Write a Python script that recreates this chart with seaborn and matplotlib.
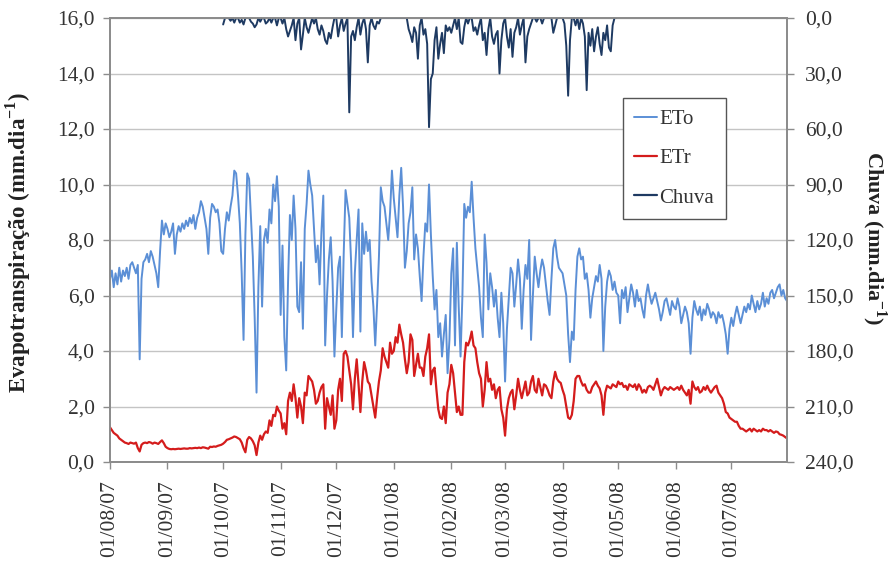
import numpy as np
import pandas as pd
import matplotlib
matplotlib.use("Agg")
import matplotlib.pyplot as plt
import matplotlib.dates as mdates
from matplotlib.ticker import FuncFormatter, MultipleLocator
from matplotlib.lines import Line2D
import seaborn as sns

# Daily reference evapotranspiration (ETo, mm/day), one list per month
eto_ago = [6.6, 6.9, 6.3, 6.8, 6.4, 7.0, 6.5, 6.9, 6.7, 7.0, 6.6, 7.1, 7.2, 7.0, 6.8, 7.1,
           3.7, 6.6, 7.2, 7.3, 7.5, 7.2, 7.6, 7.4, 7.1, 6.8, 6.3, 7.6, 8.7, 8.2, 8.6]
eto_set = [8.4, 8.1, 8.3, 8.6, 7.5, 8.2, 8.5, 8.3, 8.6, 8.4, 8.7, 8.5, 8.8, 8.6, 8.9,
           8.4, 8.8, 9.0, 9.4, 9.2, 8.8, 8.4, 7.5, 8.8, 9.3, 9.2, 9.0, 9.1, 8.6, 7.6]
eto_out = [7.5, 8.4, 9.0, 8.7, 9.2, 9.6, 10.5, 10.4, 9.6, 8.6, 6.8, 4.4, 8.2, 10.4, 10.2, 8.8,
           7.4, 5.2, 2.5, 6.3, 8.5, 5.6, 8.0, 8.4, 7.9, 9.1, 8.6, 10.0, 9.4, 10.3, 9.2]
eto_nov = [5.3, 7.8, 4.5, 3.3, 6.5, 8.9, 8.0, 9.6, 8.4, 5.6, 5.4, 7.2, 4.8, 8.4, 9.3,
           10.5, 10.0, 9.6, 8.4, 7.2, 7.8, 6.4, 8.3, 9.6, 4.2, 6.0, 7.3, 8.1, 6.5, 3.8]
eto_dez = [5.5, 7.0, 7.4, 4.5, 7.5, 9.8, 9.3, 8.8, 7.2, 4.5, 6.8, 8.0, 9.1, 4.7, 8.6, 7.5,
           8.3, 7.6, 8.0, 6.5, 5.6, 4.2, 5.7, 7.4, 9.9, 9.4, 9.2, 8.6, 8.0, 9.0, 10.5]
eto_jan = [9.5, 8.8, 8.1, 9.6, 10.6, 9.2, 7.0, 7.6, 8.6, 9.0, 9.9, 7.3, 8.2, 7.7, 6.7, 5.8,
           7.4, 8.6, 8.3, 10.0, 8.2, 6.7, 5.5, 6.2, 4.5, 5.0, 3.8, 4.6, 5.3, 3.2, 4.4]
eto_fev = [6.8, 7.7, 4.2, 7.9, 5.6, 3.8, 6.0, 9.3, 8.8, 9.2, 9.0, 10.1, 8.8, 7.7, 7.0,
           6.3, 5.2, 4.5, 8.2, 7.2, 5.5, 6.8, 6.3, 5.6, 6.2, 5.2, 4.5, 6.1, 5.0]
eto_mar = [2.9, 4.8, 5.9, 7.0, 6.8, 5.6, 6.4, 7.3, 6.6, 4.8, 6.2, 7.1, 6.6, 8.0, 4.4, 6.0,
           7.4, 6.8, 6.3, 6.9, 7.3, 7.0, 6.4, 5.8, 5.3, 6.6, 7.7, 8.0, 7.4, 7.0, 6.9]
eto_abr = [6.8, 6.4, 6.0, 4.6, 3.6, 4.7, 4.4, 6.2, 7.4, 7.7, 7.3, 7.4, 6.6, 6.8, 6.2,
           5.2, 5.9, 6.3, 6.7, 6.5, 7.1, 6.6, 4.0, 5.6, 6.5, 6.9, 6.7, 6.2, 6.5, 6.1]
eto_mai = [6.0, 5.0, 6.2, 5.9, 6.3, 5.4, 5.9, 6.4, 6.1, 5.6, 6.2, 5.8, 5.9, 5.5, 5.2, 6.0,
           6.4, 6.0, 5.7, 5.9, 6.1, 5.8, 5.5, 5.1, 5.4, 5.8, 5.9, 5.6, 5.3, 5.8, 5.6]
eto_jun = [5.5, 5.9, 5.6, 5.0, 5.3, 5.6, 5.4, 5.0, 3.9, 5.2, 5.8, 5.5, 5.3, 5.6, 5.1,
           5.5, 5.3, 5.7, 5.5, 5.2, 5.4, 5.3, 5.0, 5.4, 5.2, 5.3, 5.0, 4.6, 3.9, 4.8]
eto_jul = [5.2, 4.9, 5.3, 5.6, 5.3, 5.0, 5.3, 5.6, 5.4, 5.7, 5.5, 6.0, 5.7, 5.4, 5.8, 5.5,
           5.7, 6.1, 5.6, 5.9, 5.7, 6.1, 6.2, 5.9, 6.1, 6.3, 6.4, 6.0, 6.2, 5.9, 5.8]

# Daily actual evapotranspiration (ETr, mm/day)
etr_ago = [1.25, 1.15, 1.05, 1.0, 0.95, 0.85, 0.8, 0.75, 0.7, 0.68, 0.65, 0.7, 0.68, 0.66, 0.7, 0.5,
           0.38, 0.62, 0.68, 0.7, 0.68, 0.72, 0.7, 0.66, 0.7, 0.68, 0.65, 0.72, 0.78, 0.68, 0.55]
etr_set = [0.5, 0.47, 0.46, 0.47, 0.46, 0.47, 0.48, 0.47, 0.48, 0.49, 0.48, 0.48, 0.5, 0.49, 0.5,
           0.51, 0.5, 0.52, 0.5, 0.53, 0.52, 0.5, 0.48, 0.55, 0.54, 0.56, 0.55, 0.58, 0.6, 0.62]
etr_out = [0.66, 0.72, 0.8, 0.82, 0.85, 0.88, 0.92, 0.9, 0.86, 0.82, 0.7, 0.5, 0.35, 0.8, 0.9, 0.85,
           0.75, 0.6, 0.25, 0.7, 0.95, 0.8, 1.0, 1.1, 1.05, 1.5, 1.3, 1.7, 1.65, 2.0, 1.85]
etr_nov = [1.75, 1.2, 1.4, 1.0, 2.2, 2.5, 2.2, 2.8, 2.3, 1.6, 2.3, 2.0, 1.4, 2.5, 2.4,
           3.1, 3.0, 2.9, 2.6, 2.1, 2.2, 2.5, 2.7, 2.8, 1.2, 2.3, 2.0, 1.7, 2.4, 1.2]
etr_dez = [1.5, 2.6, 3.0, 2.2, 3.9, 4.0, 3.8, 3.3, 2.8, 1.9, 3.0, 3.7, 2.8, 1.8, 2.9, 3.6,
           3.3, 2.9, 2.8, 2.4, 2.0, 1.6, 2.3, 2.9, 3.3, 4.1, 3.8, 3.6, 3.4, 4.3, 3.9]
etr_jan = [4.0, 4.5, 4.3, 4.95, 4.6, 4.3, 3.7, 3.2, 3.6, 4.6, 4.4, 3.1, 3.5, 3.9, 3.4, 3.4,
           3.1, 3.8, 4.1, 4.6, 2.8, 3.3, 3.4, 2.6, 1.9, 1.6, 1.55, 2.0, 1.4, 2.5, 2.8]
etr_fev = [3.5, 3.2, 2.5, 1.8, 2.0, 1.7, 1.7, 3.6, 4.3, 4.2, 4.4, 4.7, 4.2, 4.1, 3.6,
           3.2, 3.0, 2.0, 2.6, 3.6, 2.9, 3.0, 2.6, 2.8, 2.3, 2.6, 2.7, 1.9, 1.6]
etr_mar = [0.95, 1.9, 2.3, 2.5, 2.6, 1.9, 2.4, 3.0, 2.6, 2.3, 2.6, 2.9, 2.4, 2.5, 2.9, 3.1,
           2.6, 2.5, 3.0, 2.7, 2.4, 2.8, 2.75, 2.6, 2.4, 2.3, 2.9, 3.25, 3.0, 2.9, 2.85]
etr_abr = [2.6, 2.4, 2.0, 1.6, 1.55, 1.7, 2.2, 3.0, 3.1, 3.1, 2.9, 2.75, 2.8, 2.6, 2.5,
           2.5, 2.7, 2.8, 2.9, 2.75, 2.65, 2.4, 1.7, 2.5, 2.75, 2.7, 2.65, 2.8, 2.75, 2.7]
etr_mai = [2.9, 2.8, 2.85, 2.7, 2.75, 2.6, 2.8, 2.75, 2.7, 2.8, 2.6, 2.8, 2.7, 2.5, 2.6, 2.5,
           2.7, 2.75, 2.7, 2.6, 2.8, 3.0, 2.7, 2.4, 2.6, 2.7, 2.65, 2.6, 2.7, 2.65, 2.6]
etr_jun = [2.65, 2.7, 2.6, 2.75, 2.6, 2.5, 2.4, 2.6, 2.1, 2.9, 2.7, 2.6, 2.7, 2.5, 2.55,
           2.7, 2.6, 2.75, 2.6, 2.5, 2.6, 2.7, 2.75, 2.5, 2.4, 2.3, 2.1, 1.8, 1.75, 1.6]
etr_jul = [1.55, 1.5, 1.45, 1.45, 1.3, 1.2, 1.2, 1.15, 1.1, 1.15, 1.2, 1.1, 1.2, 1.15, 1.1, 1.15,
           1.1, 1.2, 1.15, 1.15, 1.1, 1.15, 1.1, 1.05, 1.1, 1.08, 1.0, 0.98, 0.95, 0.9, 0.85]

# Daily rainfall (mm/day), recorded from October to April
chuva_out = [3.5, 0, 0, 0, 1.5, 0, 2.5, 0, 0, 2.5, 1.0, 3.5, 0, 0, 0, 2.0,
             3.0, 5.0, 3.5, 0, 2.0, 0, 0, 3.0, 2.0, 0, 2.5, 0, 0, 4.0, 0]
chuva_nov = [0, 3, 0, 6, 10, 7, 4, 0, 12, 3, 0, 17, 9, 0, 5,
             8, 4, 0, 3, 0, 6, 9, 4, 7, 12, 14, 8, 11, 5, 0]
chuva_dez = [0, 10, 4, 0, 7, 3, 0, 51, 10, 7, 12, 5, 0, 9, 3, 0,
             6, 24, 4, 0, 4, 6, 2, 3, 0, 0, 0, 0, 0, 0, 0]
chuva_jan = [0, 0, 0, 0, 0, 0, 0, 0, 6, 9, 13, 5, 8, 22, 4, 0,
             9, 6, 14, 59, 33, 30, 12, 5, 22, 14, 8, 19, 4, 7, 5]
chuva_fev = [8, 4, 0, 6, 0, 13, 14, 5, 0, 3, 0, 0, 7, 5, 9,
             4, 0, 12, 8, 20, 6, 0, 10, 14, 9, 7, 30, 12, 3]
chuva_mar = [0, 10, 16, 6, 21, 8, 5, 0, 9, 4, 0, 24, 10, 6, 3, 0,
             0, 2, 0, 0, 3, 0, 0, 0, 0, 0, 8, 4, 0, 0, 0]
chuva_abr = [0, 3, 15, 42, 12, 0, 0, 4, 0, 6, 0, 3, 10, 39, 8,
             15, 6, 18, 10, 5, 14, 20, 8, 12, 4, 16, 18, 4, 0, 0]

serie_legenda = ["ETo", "ETr", "Chuva"]

dias = pd.date_range("2007-08-01", "2008-07-31", freq="D")
eto = np.concatenate([eto_ago, eto_set, eto_out, eto_nov, eto_dez, eto_jan,
                      eto_fev, eto_mar, eto_abr, eto_mai, eto_jun, eto_jul])
etr = np.concatenate([etr_ago, etr_set, etr_out, etr_nov, etr_dez, etr_jan,
                      etr_fev, etr_mar, etr_abr, etr_mai, etr_jun, etr_jul])
chuva = np.concatenate([np.full(61, np.nan), chuva_out, chuva_nov, chuva_dez, chuva_jan,
                        chuva_fev, chuva_mar, chuva_abr, np.full(92, np.nan)])

df = pd.DataFrame({"data": dias, "ETo": eto, "ETr": etr, "Chuva": chuva})

sns.set_style("white")
plt.rcParams["font.family"] = ["Liberation Serif", "DejaVu Serif"]
plt.rcParams["mathtext.fontset"] = "custom"
plt.rcParams["mathtext.rm"] = "Liberation Serif"
plt.rcParams["mathtext.bf"] = "Liberation Serif:bold"

cor_eto = "#5B8FD6"
cor_etr = "#D41C1C"
cor_chuva = "#1E3A62"
cor_eixo = "#8C8C8C"
cor_texto = "#333333"

fig = plt.figure(figsize=(8.92, 5.65), dpi=100)
ax = fig.add_axes([110 / 892, 1 - 462 / 565, 677 / 892, 444 / 565])

sns.lineplot(data=df, x="data", y="ETo", ax=ax, color=cor_eto, lw=1.4, legend=False, zorder=3)
sns.lineplot(data=df, x="data", y="ETr", ax=ax, color=cor_etr, lw=1.6, legend=False, zorder=4)

ax2 = ax.twinx()
sns.lineplot(data=df, x="data", y="Chuva", ax=ax2, color=cor_chuva, lw=1.4, legend=False)

virgula = FuncFormatter(lambda v, _: f"{v:.1f}".replace(".", ","))

ax.set_xlim(dias[0], dias[-1])
ax.set_ylim(0, 16)
ax.yaxis.set_major_locator(MultipleLocator(2))
ax.yaxis.set_major_formatter(virgula)
ax.xaxis.set_major_locator(mdates.MonthLocator())
ax.xaxis.set_major_formatter(mdates.DateFormatter("%d/%m/%y"))
ax.grid(axis="y", color="#C4C4C4", lw=1.0)
ax.grid(axis="x", visible=False)
ax.set_axisbelow(True)

ax2.set_ylim(240, 0)
ax2.yaxis.set_major_locator(MultipleLocator(30))
ax2.yaxis.set_major_formatter(virgula)

for a in (ax, ax2):
    for s in a.spines.values():
        s.set_visible(True)
        s.set_color(cor_eixo)
        s.set_linewidth(1.3)
    a.set_xlabel("")
    a.set_ylabel("")

ax.tick_params(axis="y", direction="out", length=5, width=1, color=cor_eixo,
               labelsize=15.5, labelcolor=cor_texto, pad=6, left=True)
ax.tick_params(axis="x", direction="out", length=5, width=1, color=cor_eixo,
               labelsize=15.5, labelcolor=cor_texto, pad=8, bottom=True, labelrotation=90)
ax2.tick_params(axis="y", direction="out", length=5, width=1, color=cor_eixo,
                labelsize=15.5, labelcolor=cor_texto, pad=8, right=True)

fig.text(18 / 892, 1 - 242 / 565, "Evapotranspiração (mm.dia$^{\\mathbf{-1}}$)",
         rotation=90, ha="center", va="center", fontsize=16.5, fontweight="bold", color="#222222")
fig.text(874 / 892, 1 - 238 / 565, "Chuva (mm.dia$^{\\mathbf{-1}}$)",
         rotation=-90, ha="center", va="center", fontsize=16, fontweight="bold", color="#222222")

alcas = [Line2D([], [], color=cor_eto, lw=1.4),
         Line2D([], [], color=cor_etr, lw=1.6),
         Line2D([], [], color=cor_chuva, lw=1.6)]
leg = ax2.legend(alcas, serie_legenda, loc="upper left",
                 bbox_to_anchor=(623 / 892, 1 - 98 / 565), bbox_transform=fig.transFigure,
                 frameon=True, fancybox=False, framealpha=1, edgecolor="#555555",
                 fontsize=15, handlelength=1.1, handletextpad=0.1, labelspacing=0.95,
                 borderpad=0.55, borderaxespad=0)
leg.get_frame().set_linewidth(1.0)
for t in leg.get_texts():
    t.set_color(cor_texto)

fig.savefig("out.png", dpi=100)
